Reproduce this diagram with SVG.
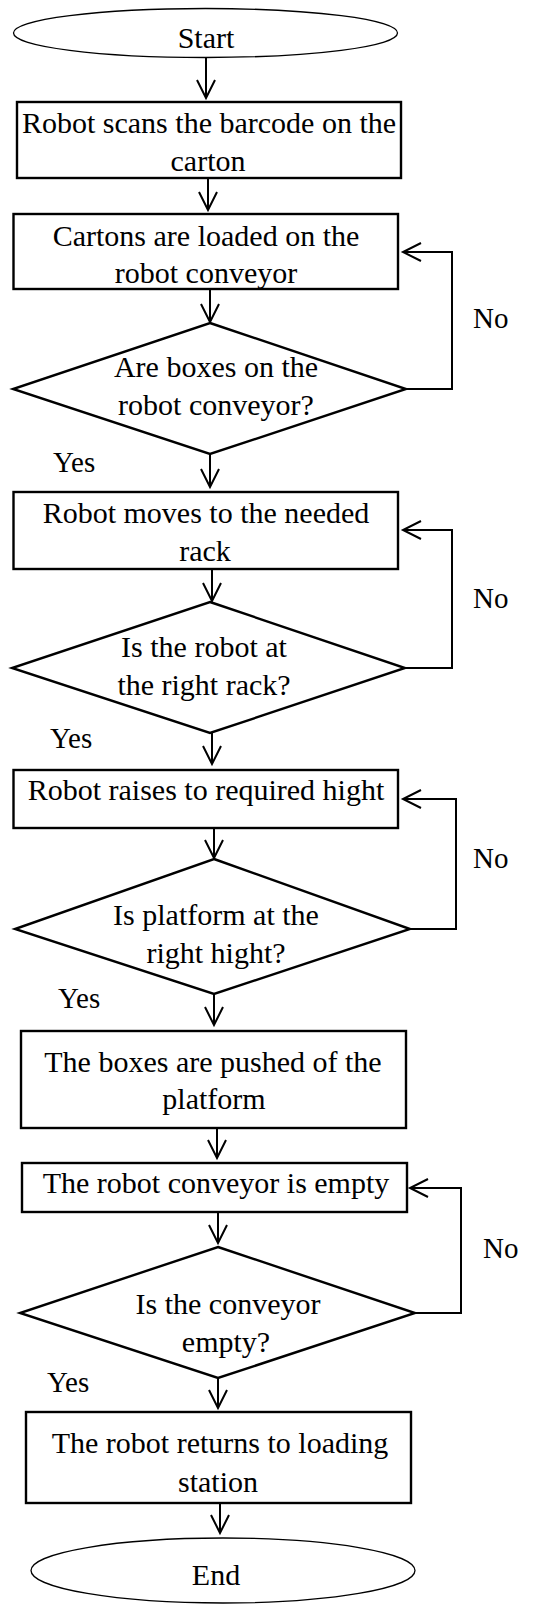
<svg xmlns="http://www.w3.org/2000/svg" width="550" height="1604" viewBox="0 0 550 1604">
  <style>
    .box { fill: #fff; stroke: #000; stroke-width: 2.4; }
    .term { fill: #fff; stroke: #000; stroke-width: 1.3; }
    .lbl { font-family: "Liberation Serif", "Times New Roman", serif; font-size: 30px; fill: #000; text-anchor: middle; }
    .side { font-family: "Liberation Serif", "Times New Roman", serif; font-size: 29px; fill: #000; }
    .conn { fill: none; stroke: #000; stroke-width: 2; marker-end: url(#arrow); }
  </style>
  <defs>
    <marker id="arrow" markerUnits="userSpaceOnUse" markerWidth="24" markerHeight="24" viewBox="-20 -12 24 24" refX="0" refY="0" orient="auto">
      <path d="M-18,-9 L0,0 L-18,9" fill="none" stroke="#000" stroke-width="2"/>
    </marker>
  </defs>
  <rect width="550" height="1604" fill="#fff"/>

  <g id="connectors">
    <path class="conn" d="M206,57 V98"/>
    <path class="conn" d="M208,178 V210"/>
    <path class="conn" d="M210,289 V322"/>
    <path class="conn" d="M406,389 H452 V252 H403"/>
    <path class="conn" d="M210,454 V487"/>
    <path class="conn" d="M212,569 V601"/>
    <path class="conn" d="M405,668 H452 V530 H403"/>
    <path class="conn" d="M212,733 V764"/>
    <path class="conn" d="M214,828 V858"/>
    <path class="conn" d="M410,929 H456 V799 H403"/>
    <path class="conn" d="M214,994 V1025"/>
    <path class="conn" d="M217,1128 V1158"/>
    <path class="conn" d="M218,1212 V1243"/>
    <path class="conn" d="M415,1313 H461 V1188 H410"/>
    <path class="conn" d="M218,1378 V1408"/>
    <path class="conn" d="M220,1503 V1533"/>
  </g>

  <g id="start">
    <ellipse class="term" cx="205.5" cy="33" rx="192" ry="24.5"/>
    <text class="lbl" x="206" y="48">Start</text>
  </g>

  <g id="scan">
    <rect class="box" x="17" y="102" width="384" height="76"/>
    <text class="lbl" x="209" y="133">Robot scans the barcode on the</text>
    <text class="lbl" x="208" y="171">carton</text>
  </g>

  <g id="load">
    <rect class="box" x="13.5" y="214" width="384.5" height="75"/>
    <text class="lbl" x="206" y="246">Cartons are loaded on the</text>
    <text class="lbl" x="206" y="283">robot conveyor</text>
  </g>

  <g id="check-boxes">
    <polygon class="box" points="210,323 406,389 210,454 13,389"/>
    <text class="lbl" x="216" y="377">Are boxes on the</text>
    <text class="lbl" x="216" y="415">robot conveyor?</text>
  </g>

  <g id="move">
    <rect class="box" x="13.5" y="492" width="384.5" height="77"/>
    <text class="lbl" x="206" y="523">Robot moves to the needed</text>
    <text class="lbl" x="205" y="561">rack</text>
  </g>

  <g id="check-rack">
    <polygon class="box" points="210,602 405,668 210,733 12,668"/>
    <text class="lbl" x="204" y="657">Is the robot at</text>
    <text class="lbl" x="204" y="695">the right rack?</text>
  </g>

  <g id="raise">
    <rect class="box" x="13.5" y="770" width="384.5" height="58"/>
    <text class="lbl" x="206" y="800">Robot raises to required hight</text>
  </g>

  <g id="check-height">
    <polygon class="box" points="214,859 410,929 214,994 15,929"/>
    <text class="lbl" x="216" y="925">Is platform at the</text>
    <text class="lbl" x="216" y="963">right hight?</text>
  </g>

  <g id="push">
    <rect class="box" x="21" y="1031" width="385" height="97"/>
    <text class="lbl" x="213" y="1072">The boxes are pushed of the</text>
    <text class="lbl" x="214" y="1109">platform</text>
  </g>

  <g id="empty">
    <rect class="box" x="22" y="1163" width="385" height="49"/>
    <text class="lbl" x="216" y="1193">The robot conveyor is empty</text>
  </g>

  <g id="check-empty">
    <polygon class="box" points="218,1247 415,1313 218,1378 20,1313"/>
    <text class="lbl" x="228" y="1314">Is the conveyor</text>
    <text class="lbl" x="226" y="1352">empty?</text>
  </g>

  <g id="return">
    <rect class="box" x="26" y="1412" width="385" height="91"/>
    <text class="lbl" x="220" y="1453">The robot returns to loading</text>
    <text class="lbl" x="218" y="1492">station</text>
  </g>

  <g id="end">
    <ellipse class="term" cx="223" cy="1570.5" rx="192" ry="32.5"/>
    <text class="lbl" x="216" y="1585">End</text>
  </g>

  <g id="branch-labels">
    <text class="side" x="473" y="328">No</text>
    <text class="side" x="53" y="472">Yes</text>
    <text class="side" x="473" y="608">No</text>
    <text class="side" x="50" y="748">Yes</text>
    <text class="side" x="473" y="868">No</text>
    <text class="side" x="58" y="1008">Yes</text>
    <text class="side" x="483" y="1258">No</text>
    <text class="side" x="47" y="1392">Yes</text>
  </g>
</svg>
